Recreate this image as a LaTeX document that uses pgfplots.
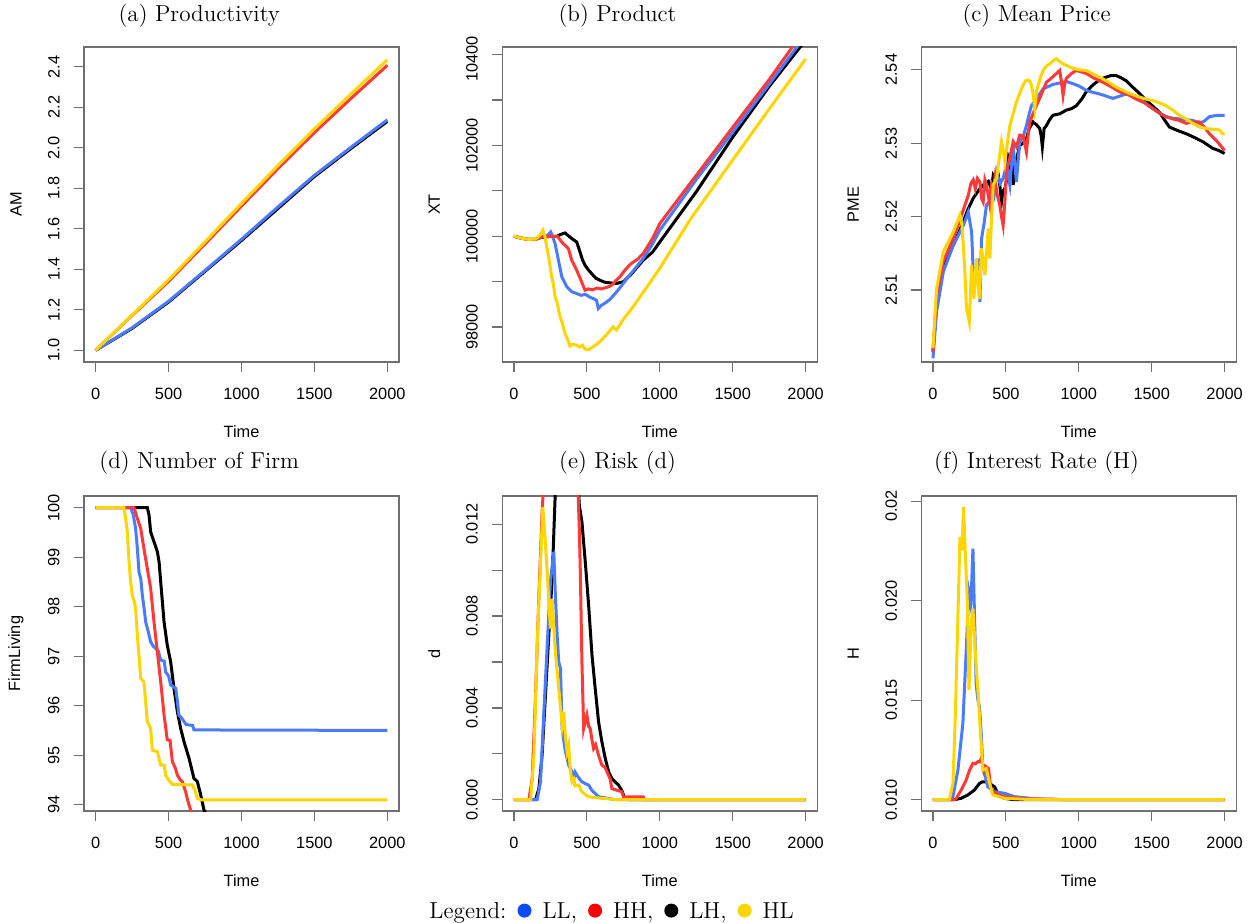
\documentclass[border=0pt]{standalone}
\usepackage{pgfplots}
\pgfplotsset{compat=1.18}
\usepackage{fontspec}
\newfontfamily\rsans{Liberation Sans}
\newcommand{\tickfont}{\rsans\fontsize{8.2}{9.8}\selectfont}
\newcommand{\titlefont}{\fontsize{11.6}{13.5}\selectfont}

\definecolor{cLL}{HTML}{4A7BFF}
\definecolor{cHH}{HTML}{FF3838}
\definecolor{cLH}{HTML}{000000}
\definecolor{cHL}{HTML}{FFD500}
\definecolor{dLL}{HTML}{0A4BFF}
\definecolor{dHH}{HTML}{FF0000}
\definecolor{boxgray}{HTML}{707070}

\pgfplotsset{
  rpanel/.style={
    scale only axis, width=157.5bp, height=157.5bp,
    xmin=-80, xmax=2080,
    xtick={0,500,1000,1500,2000},
    xticklabels={0,500,1000,1500,2000},
    scaled ticks=false,
    tick align=outside, xtick pos=bottom, ytick pos=left,
    major tick length=5bp,
    axis line style={draw=boxgray, line width=0.6bp},
    every tick/.style={draw=boxgray, line width=0.6bp},
    tick label style={font=\tickfont, /pgf/number format/assume math mode=true},
    xticklabel style={anchor=north, inner sep=0pt},
    yticklabel style={rotate=90, anchor=south, inner sep=0pt},
    xticklabel shift=8bp, yticklabel shift=7bp,
    label style={font=\tickfont},
    xlabel={Time},
    xlabel style={at={(axis description cs:0.5,-0.2222)}, anchor=center},
    ylabel style={at={(axis description cs:-0.2159,0.5)}, anchor=center, rotate=0},
    every axis title shift=0pt,
    title style={font=\titlefont, anchor=center, yshift=0pt},
    every axis plot/.append style={line width=1.5bp},
    clip=true,
  },
  toprow/.style={title style={at={(axis description cs:0.366,1.1007)}}},
  botrow/.style={title style={at={(axis description cs:0.366,1.1062)}}},
}

\begin{document}
\begin{tikzpicture}
\path[use as bounding box] (0,0) rectangle (629bp,461.5bp);

% (a)
\begin{axis}[rpanel, toprow, at={(42bp,280.5bp)}, anchor=south west,
  title={(a) Productivity}, ylabel={AM},
  ymin=0.942, ymax=2.4976,
  ytick={1,1.2,1.4,1.6,1.8,2,2.2,2.4},
  yticklabels={1.0,1.2,1.4,1.6,1.8,2.0,2.2,2.4}]
\addplot[cLH] coordinates {(0,1.0) (250,1.108) (500,1.238) (750,1.390) (1000,1.542) (1250,1.700) (1500,1.858) (1750,1.996) (2000,2.130)};
\addplot[cLL] coordinates {(0,1.0) (250,1.111) (500,1.242) (750,1.394) (1000,1.548) (1250,1.708) (1500,1.864) (1750,2.002) (2000,2.138)};
\addplot[cHH] coordinates {(0,1.0) (250,1.172) (500,1.340) (750,1.525) (1000,1.712) (1250,1.897) (1500,2.075) (1750,2.243) (2000,2.407)};
\addplot[cHL] coordinates {(0,1.0) (250,1.174) (500,1.348) (750,1.535) (1000,1.725) (1250,1.912) (1500,2.093) (1750,2.265) (2000,2.434)};
\end{axis}

% (b)
\begin{axis}[rpanel, toprow, at={(251.15bp,280.5bp)}, anchor=south west,
  title={(b) Product}, ylabel={XT},
  ymin=97231, ymax=104169,
  ytick={98000,99000,100000,101000,102000,103000,104000},
  yticklabels={98000,,100000,,102000,,10400\phantom{0}}]
\addplot[cLH] coordinates {(0,100000) (50,99960) (100,99930) (150,99935) (180,99970) (250,100000) (294,100000) (320,100040) (350,100073) (370,100020) (396,99950) (430,99875) (453,99655) (470,99480) (487,99363) (510,99260) (532,99180) (560,99080) (589,99033) (620,98990) (658,98974) (700,98960) (749,98996) (800,99150) (886,99473) (950,99650) (1000,99875) (1250,100980) (1500,102183) (1750,103300) (2000,104322)};
\addplot[cLL] coordinates {(0,100000) (50,99960) (100,99930) (150,99935) (180,99970) (200,99990) (230,100020) (252,100095) (265,100000) (282,99839) (305,99473) (328,99106) (345,99000) (362,98886) (396,98777) (430,98740) (460,98700) (490,98720) (520,98660) (550,98620) (566,98590) (578,98411) (600,98480) (630,98540) (658,98608) (700,98760) (749,98960) (800,99170) (886,99510) (950,99830) (1000,100132) (1250,101250) (1500,102293) (1750,103350) (2000,104425)};
\addplot[cHH] coordinates {(0,100000) (50,99960) (100,99930) (150,99935) (180,99970) (200,100000) (250,99990) (282,100000) (300,99990) (327,99875) (350,99800) (373,99730) (396,99473) (430,99253) (464,98996) (487,98813) (510,98840) (540,98820) (570,98860) (600,98840) (630,98870) (658,98901) (680,98950) (700,99030) (726,99106) (760,99250) (800,99390) (850,99500) (886,99619) (950,99950) (1000,100279) (1250,101341) (1500,102400) (1750,103450) (2000,104580)};
\addplot[cHL] coordinates {(0,100000) (50,99960) (100,99930) (150,99940) (180,100030) (198,100132) (212,100000) (225,99765) (240,99500) (259,99106) (270,98950) (282,98667) (295,98550) (316,98227) (330,98100) (350,97861) (365,97750) (384,97582) (400,97620) (430,97604) (450,97560) (470,97600) (487,97516) (510,97500) (550,97580) (589,97677) (640,97850) (680,98007) (703,97934) (750,98170) (817,98447) (900,98830) (999,99290) (1215,100400) (1500,101680) (1750,102800) (2000,103905)};
\end{axis}

% (c)
\begin{axis}[rpanel, toprow, at={(460.65bp,280.5bp)}, anchor=south west,
  title={(c) Mean Price}, ylabel={PME},
  ymin=2.5002, ymax=2.5431,
  ytick={2.51,2.52,2.53,2.54},
  yticklabels={2.51,2.52,2.53,2.54}]
\addplot[cLH] coordinates {(0,2.5016) (20,2.507) (48,2.5116) (90,2.514) (139,2.5161) (208,2.5193) (240,2.521) (276,2.5225) (310,2.5235) (344,2.5243) (380,2.5248) (400,2.5238) (413,2.5256) (430,2.525) (445,2.526) (458,2.5243) (470,2.522) (480,2.5235) (493,2.5238) (505,2.525) (515,2.528) (527,2.527) (540,2.529) (550,2.5243) (562,2.527) (575,2.528) (595,2.5297) (618,2.53) (641,2.5306) (660,2.532) (686,2.5329) (710,2.5325) (732,2.532) (742,2.531) (750,2.5295) (762,2.532) (778,2.5324) (800,2.5332) (823,2.5338) (870,2.534) (914,2.5345) (950,2.5347) (983,2.5351) (1020,2.536) (1051,2.537) (1090,2.5378) (1120,2.5383) (1160,2.5388) (1188,2.539) (1220,2.5392) (1257,2.5392) (1290,2.5389) (1325,2.5385) (1360,2.5378) (1393,2.5372) (1430,2.5365) (1462,2.5358) (1510,2.535) (1553,2.5342) (1590,2.5331) (1621,2.5322) (1680,2.5317) (1735,2.5313) (1790,2.5308) (1850,2.5302) (1918,2.5293) (1960,2.529) (2000,2.5286)};
\addplot[cLL] coordinates {(0,2.5007) (25,2.5071) (71,2.5125) (139,2.5161) (208,2.5188) (242,2.5206) (265,2.5179) (276,2.5125) (299,2.512) (310,2.5143) (322,2.5084) (333,2.517) (350,2.519) (367,2.5216) (385,2.522) (401,2.5243) (420,2.523) (436,2.5261) (460,2.5245) (481,2.5252) (504,2.527) (527,2.5243) (550,2.5297) (572,2.5247) (595,2.5302) (620,2.531) (641,2.5324) (660,2.534) (675,2.5351) (709,2.536) (755,2.5374) (823,2.538) (870,2.5382) (914,2.5384) (960,2.5381) (1000,2.5378) (1051,2.5372) (1100,2.5369) (1142,2.5367) (1190,2.5364) (1234,2.5361) (1280,2.5364) (1325,2.5367) (1370,2.5364) (1416,2.536) (1460,2.5354) (1507,2.5347) (1553,2.5341) (1599,2.5336) (1645,2.5334) (1690,2.5333) (1735,2.5332) (1781,2.5331) (1827,2.5327) (1860,2.533) (1895,2.5336) (1950,2.5338) (2000,2.5338)};
\addplot[cHH] coordinates {(0,2.5016) (25,2.5093) (71,2.5139) (139,2.517) (196,2.5202) (242,2.5229) (260,2.5245) (276,2.525) (290,2.5238) (305,2.5252) (322,2.5247) (333,2.5225) (344,2.522) (356,2.525) (367,2.5243) (378,2.523) (390,2.5216) (400,2.524) (412,2.5235) (424,2.5252) (440,2.523) (458,2.5216) (470,2.52) (481,2.5188) (493,2.522) (504,2.5261) (527,2.528) (550,2.5302) (572,2.5295) (595,2.5311) (618,2.531) (641,2.5288) (652,2.531) (664,2.5329) (686,2.534) (709,2.5351) (740,2.5365) (778,2.5383) (820,2.539) (869,2.5399) (880,2.5385) (892,2.5365) (903,2.538) (914,2.5388) (950,2.5395) (983,2.5399) (1051,2.5395) (1100,2.5389) (1165,2.5383) (1220,2.5377) (1279,2.537) (1340,2.5366) (1393,2.536) (1450,2.5355) (1507,2.5347) (1553,2.5341) (1599,2.5336) (1645,2.5333) (1690,2.5331) (1735,2.5327) (1780,2.5329) (1827,2.5329) (1860,2.5322) (1895,2.5313) (1950,2.5302) (2000,2.529)};
\addplot[cHL] coordinates {(0,2.5021) (25,2.5102) (71,2.5152) (139,2.5179) (185,2.5202) (198,2.519) (208,2.5161) (220,2.512) (230,2.5075) (249,2.5057) (265,2.5134) (273,2.511) (281,2.5088) (290,2.512) (299,2.5143) (308,2.511) (317,2.5088) (325,2.512) (333,2.5157) (345,2.514) (356,2.512) (367,2.515) (379,2.5184) (390,2.5143) (400,2.519) (413,2.5243) (436,2.5252) (455,2.528) (470,2.5302) (482,2.529) (493,2.5274) (510,2.53) (527,2.5324) (550,2.534) (572,2.5356) (595,2.5368) (618,2.5379) (635,2.5385) (652,2.5386) (665,2.5384) (675,2.5379) (688,2.5365) (698,2.5347) (710,2.537) (721,2.5379) (738,2.539) (755,2.5399) (778,2.5405) (800,2.5408) (823,2.5412) (846,2.5415) (870,2.5411) (892,2.5408) (925,2.5405) (960,2.5402) (1000,2.54) (1051,2.5399) (1100,2.5394) (1142,2.539) (1190,2.5385) (1234,2.5379) (1280,2.5374) (1325,2.537) (1370,2.5366) (1416,2.5363) (1460,2.536) (1507,2.5358) (1553,2.5355) (1599,2.5351) (1645,2.5345) (1690,2.5338) (1735,2.5333) (1781,2.5327) (1827,2.5322) (1872,2.532) (1920,2.5319) (1963,2.5318) (1985,2.5313) (2000,2.5312)};
\end{axis}

% (d)
\begin{axis}[rpanel, botrow, at={(42bp,56bp)}, anchor=south west,
  title={(d) Number of Firm}, ylabel={FirmLiving},
  ymin=93.873, ymax=100.234,
  ytick={94,95,96,97,98,99,100},
  yticklabels={94,95,96,97,98,99,100}]
\addplot[cLH] coordinates {(0,100) (354,100) (366,99.85) (377,99.51) (400,99.31) (423,99.11) (435,98.9) (446,98.5) (469,97.69) (491,97.22) (514,96.89) (537,96.35) (560,95.88) (583,95.54) (606,95.27) (640,94.94) (674,94.53) (697,94.47) (720,94.2) (743,93.89) (800,93.6) (2000,93.6)};
\addplot[cLL] coordinates {(0,100) (240,100) (258,99.85) (274,99.58) (286,99.17) (297,98.7) (310,98.55) (320,98.23) (335,97.9) (343,97.69) (360,97.5) (377,97.29) (395,97.2) (411,97.16) (430,97.1) (446,96.92) (470,96.9) (480,96.68) (500,96.6) (514,96.42) (549,96.35) (560,96.1) (571,95.81) (590,95.75) (606,95.68) (620,95.62) (640,95.61) (665,95.6) (674,95.51) (2000,95.5)};
\addplot[cHH] coordinates {(0,100) (263,100) (286,99.78) (309,99.58) (331,99.17) (354,98.77) (377,98.37) (400,97.69) (423,97.09) (446,96.48) (469,95.81) (491,95.31) (510,95.3) (526,94.87) (545,94.75) (560,94.6) (580,94.5) (594,94.47) (617,94.26) (630,94.1) (651,93.89) (700,93.5) (2000,93.5)};
\addplot[cHL] coordinates {(0,100) (194,100) (206,99.78) (217,99.51) (229,98.9) (240,98.5) (251,98.23) (265,98.1) (274,97.96) (286,97.42) (300,96.9) (309,96.55) (331,96.48) (345,96.0) (354,95.68) (377,95.54) (389,95.1) (423,95.07) (446,94.8) (470,94.8) (480,94.6) (500,94.5) (526,94.41) (663,94.4) (680,94.3) (697,94.13) (720,94.1) (2000,94.1)};
\end{axis}

% (e)
\begin{axis}[rpanel, botrow, at={(251.15bp,56bp)}, anchor=south west,
  title={(e) Risk (d)}, ylabel={d},
  ymin=-0.00049, ymax=0.01323,
  ytick={0,0.002,0.004,0.006,0.008,0.010,0.012},
  yticklabels={0.000,,0.004,,0.008,,0.012},
  legend columns=-1,
  legend style={at={(axis description cs:-0.2324,-0.32)}, anchor=west,
    draw=none, fill=none, inner sep=0pt, nodes={inner sep=0pt, font=\titlefont}},
  legend image code/.code={\path[draw=none,fill=none] (0bp,0bp) rectangle (18bp,0.1bp); \fill[#1, draw=none] (9bp,0.6bp) circle (3.5bp);}]
\addplot[cLH, forget plot] coordinates {(0,0) (148,0) (171,0.0005) (193,0.00194) (216,0.00456) (239,0.00717) (262,0.00963) (284,0.0135) (330,0.018) (400,0.02) (440,0.0138) (448,0.01283) (466,0.0121) (489,0.01036) (512,0.00847) (535,0.0063) (557,0.00485) (580,0.0034) (603,0.00252) (626,0.0018) (650,0.0012) (671,0.00093) (690,0.0008) (717,0.00064) (740,0.0004) (751,0.0002) (762,0.00006) (780,0) (2000,0)};
\addplot[cLL, forget plot] coordinates {(0,0) (159,0) (182,0.00078) (205,0.00383) (228,0.00673) (250,0.00949) (262,0.0102) (273,0.0108) (284,0.0089) (296,0.00717) (307,0.006) (319,0.00572) (330,0.0031) (341,0.0026) (353,0.00209) (375,0.00151) (398,0.00122) (410,0.0009) (420,0.0012) (432,0.00107) (450,0.0009) (466,0.00078) (490,0.0007) (512,0.00064) (535,0.0004) (557,0.00028) (580,0.00013) (671,0.00003) (700,0) (2000,0)};
\addplot[cHH, forget plot] coordinates {(0,0) (102,0) (125,0.00093) (148,0.00456) (171,0.0089) (193,0.01254) (210,0.0145) (260,0.02) (330,0.022) (400,0.018) (439,0.0135) (448,0.0118) (455,0.00993) (466,0.006) (478,0.0031) (489,0.0034) (500,0.00369) (512,0.0032) (523,0.0031) (535,0.0026) (546,0.00223) (560,0.0024) (580,0.00194) (592,0.0017) (603,0.00151) (625,0.0014) (648,0.00107) (660,0.0009) (671,0.00049) (739,0.00035) (751,0.00013) (887,0.00013) (895,0) (2000,0)};
\addplot[cHL, forget plot] coordinates {(0,0) (114,0) (137,0.00194) (159,0.00673) (182,0.01036) (198,0.01275) (212,0.01152) (228,0.00993) (239,0.00862) (250,0.00746) (262,0.00876) (273,0.00746) (284,0.00644) (307,0.00485) (330,0.00325) (341,0.00383) (352,0.0028) (364,0.00209) (375,0.00238) (386,0.0013) (398,0.00078) (410,0.0009) (420,0.0006) (444,0.00064) (460,0.0004) (478,0.00028) (512,0.00013) (603,0.00006) (671,0.00003) (700,0) (2000,0)};
\addlegendimage{empty legend}
\addlegendentry{Legend:}
\addlegendimage{dLL}
\addlegendentry{LL,}
\addlegendimage{dHH}
\addlegendentry{HH,}
\addlegendimage{black}
\addlegendentry{LH,}
\addlegendimage{cHL}
\addlegendentry{HL}
\end{axis}

% (f)
\begin{axis}[rpanel, botrow, at={(460.65bp,56bp)}, anchor=south west,
  title={(f) Interest Rate (H)}, ylabel={H},
  ymin=0.00943, ymax=0.02527,
  ytick={0.010,0.015,0.020,0.025},
  yticklabels={0.010,0.015,0.020,0.02\phantom{5}}]
\addplot[cLH] coordinates {(0,0.010) (148,0.010) (194,0.01007) (240,0.01024) (285,0.01049) (319,0.01082) (340,0.0109) (360,0.0109) (388,0.01082) (410,0.0107) (422,0.01065) (445,0.01032) (490,0.01007) (550,0.010) (2000,0.010)};
\addplot[cLL] coordinates {(0,0.010) (125,0.010) (137,0.01015) (171,0.01149) (205,0.01383) (228,0.01752) (240,0.0195) (247,0.02037) (258,0.01986) (266,0.021) (274,0.02262) (285,0.01919) (296,0.01584) (308,0.01501) (319,0.01467) (331,0.01333) (342,0.01166) (376,0.01065) (422,0.0104) (490,0.01032) (559,0.01015) (718,0.01003) (900,0.010) (2000,0.010)};
\addplot[cHH] coordinates {(0,0.010) (150,0.010) (160,0.01007) (194,0.01049) (228,0.01099) (251,0.01149) (274,0.01183) (290,0.0118) (308,0.01191) (320,0.0119) (331,0.01208) (347,0.01149) (356,0.0117) (365,0.01166) (381,0.01157) (395,0.01065) (422,0.01032) (490,0.01015) (627,0.01005) (833,0.01002) (900,0.010) (2000,0.010)};
\addplot[cHL] coordinates {(0,0.010) (112,0.010) (137,0.01082) (153,0.01417) (171,0.01919) (185,0.0232) (198,0.02254) (210,0.02471) (221,0.02254) (235,0.02003) (247,0.01551) (262,0.01886) (274,0.01961) (285,0.01819) (296,0.01668) (308,0.01551) (326,0.01333) (342,0.01149) (365,0.01157) (388,0.01082) (410,0.01024) (490,0.01007) (627,0.01002) (800,0.010) (2000,0.010)};
\end{axis}
\end{tikzpicture}
\end{document}
